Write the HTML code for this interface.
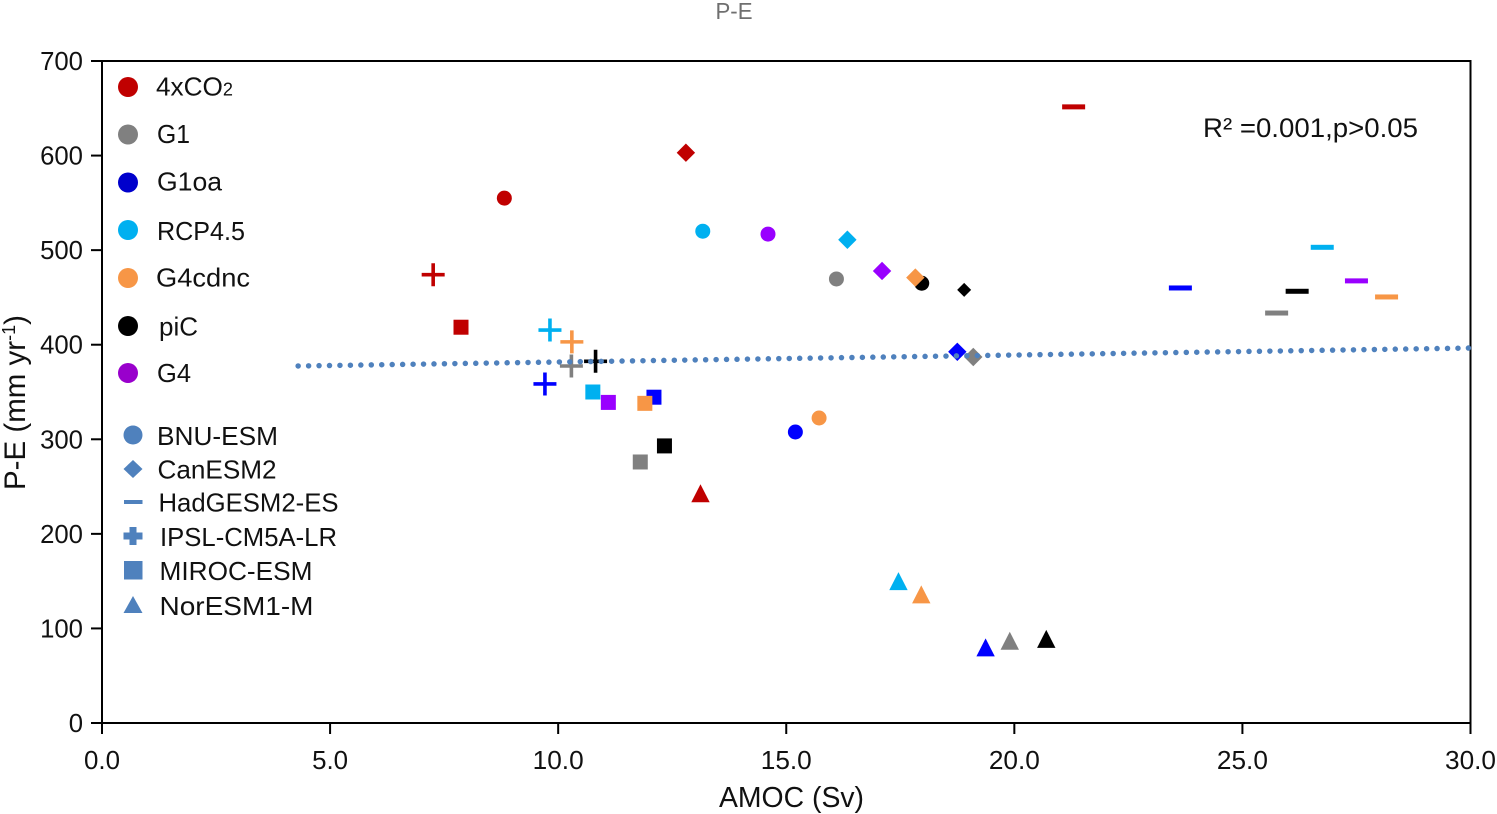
<!DOCTYPE html>
<html lang="en">
<head>
<meta charset="utf-8">
<title>P-E vs AMOC</title>
<style>
html,body{margin:0;padding:0;background:#fff;}
svg{display:block;}
text{font-family:"Liberation Sans",sans-serif;fill:#111;}
</style>
</head>
<body>
<svg id="chart" xmlns="http://www.w3.org/2000/svg" width="1497" height="814" viewBox="0 0 1497 814">
  <text x="734" y="19" text-anchor="middle" font-size="23" style="fill:#6f6f6f" textLength="37" lengthAdjust="spacingAndGlyphs">P-E</text>
  <rect x="102" y="61" width="1368.5" height="662" fill="none" stroke="#000" stroke-width="2"/>
  <g id="axes"></g>
  <text x="719" y="807" font-size="29" textLength="145" lengthAdjust="spacingAndGlyphs">AMOC (Sv)</text>
  <text transform="translate(25,490) rotate(-90)" x="0" y="0" font-size="29.500">P-E (mm yr<tspan font-size="18" dy="-10">-1</tspan><tspan dy="10">)</tspan></text>
  <text x="1203" y="137" font-size="27" textLength="215" lengthAdjust="spacingAndGlyphs">R² =0.001,p&gt;0.05</text>

  <g>
    <g><circle cx="128" cy="87" r="10" fill="#c00000"/><text x="156" y="95.500" font-size="26" textLength="77" lengthAdjust="spacingAndGlyphs">4xCO<tspan font-size="18">2</tspan></text></g>
    <g><circle cx="128" cy="134.500" r="10" fill="#808080"/><text x="157" y="143" font-size="26" textLength="33" lengthAdjust="spacingAndGlyphs">G1</text></g>
    <g><circle cx="128" cy="182.500" r="10" fill="#0000cc"/><text x="157" y="190.500" font-size="26" textLength="65" lengthAdjust="spacingAndGlyphs">G1oa</text></g>
    <g><circle cx="128" cy="230" r="10" fill="#00b0f0"/><text x="157" y="240" font-size="26" textLength="88" lengthAdjust="spacingAndGlyphs">RCP4.5</text></g>
    <g><circle cx="128" cy="278" r="10" fill="#f79646"/><text x="156" y="286.500" font-size="26" textLength="94" lengthAdjust="spacingAndGlyphs">G4cdnc</text></g>
    <g><circle cx="128" cy="326" r="10" fill="#000"/><text x="159" y="335.500" font-size="26" textLength="39" lengthAdjust="spacingAndGlyphs">piC</text></g>
    <g><circle cx="128" cy="373" r="10" fill="#9900cc"/><text x="157" y="382" font-size="26" textLength="34" lengthAdjust="spacingAndGlyphs">G4</text></g>
  </g>

  <g>
    <g><circle cx="133" cy="435" r="9.500" fill="#4f81bd"/><text x="157" y="445" font-size="26" textLength="121" lengthAdjust="spacingAndGlyphs">BNU-ESM</text></g>
    <g><polygon points="133,460 142.500,469 133,478 123.500,469" fill="#4f81bd"/><text x="157.500" y="478.500" font-size="26" textLength="119" lengthAdjust="spacingAndGlyphs">CanESM2</text></g>
    <g><rect x="124" y="500" width="18.500" height="4" fill="#4f81bd"/><text x="158.500" y="511.500" font-size="26" textLength="180" lengthAdjust="spacingAndGlyphs">HadGESM2-ES</text></g>
    <g><path d="M129.500 527h7v5.500h6v7h-6v5.500h-7v-5.500h-6v-7h6z" fill="#4f81bd"/><text x="160" y="546" font-size="26" textLength="177" lengthAdjust="spacingAndGlyphs">IPSL-CM5A-LR</text></g>
    <g><rect x="124" y="561" width="18.500" height="18.500" fill="#4f81bd"/><text x="159.500" y="580" font-size="26" textLength="153" lengthAdjust="spacingAndGlyphs">MIROC-ESM</text></g>
    <g><polygon points="133,596 142.500,613 123.500,613" fill="#4f81bd"/><text x="159.500" y="615" font-size="26" textLength="154" lengthAdjust="spacingAndGlyphs">NorESM1-M</text></g>
  </g>

  <g id="marks"></g>
  <g id="trend"></g>
</svg>
<script>
// Axis ticks
const xTicks = [0, 5, 10, 15, 20, 25, 30];
const yTicks = [0, 100, 200, 300, 400, 500, 600, 700];

// Order of values in every series below
const models = ["BNU-ESM", "CanESM2", "HadGESM2-ES", "IPSL-CM5A-LR", "MIROC-ESM", "NorESM1-M"];
const scenarios = ["4xCO2", "G1", "G1oa", "RCP4.5", "piC", "G4", "G4cdnc"];

// AMOC (Sv) per model
const amoc4xCO2 = [8.82, 12.8, 21.3, 7.26, 7.87, 13.12];
const amocG1 = [16.1, 19.1, 25.75, 10.29, 11.8, 19.9];
const amocG1oa = [15.2, 18.75, 23.64, 9.71, 12.1, 19.37];
const amocRCP45 = [13.17, 16.34, 26.75, 9.82, 10.76, 17.46];
const amocPiC = [17.97, 18.9, 26.2, 10.82, 12.33, 20.7];
const amocG4 = [14.6, 17.1, 27.5, null, 11.1, null];
const amocG4cdnc = [15.72, 17.83, 28.16, 10.3, 11.9, 17.96];

// P-E (mm/yr) per model
const pe4xCO2 = [555, 603, 651.500, 474, 418.500, 243];
const peG1 = [469.500, 387, 433.500, 377.500, 276, 87];
const peG1oa = [307.700, 392.500, 460, 358.500, 344.500, 80];
const peRCP45 = [520, 511, 503, 415.500, 350, 150];
const pePiC = [465, 458, 456.500, 382.500, 293, 89];
const peG4 = [517, 478, 467.500, null, 339, null];
const peG4cdnc = [322.500, 471, 450.500, 403, 338, 136];

// Trend line endpoints
const trendX = [4.3, 30];
const trendY = [377.5, 396.5];

const amocSeries = [amoc4xCO2, amocG1, amocG1oa, amocRCP45, amocPiC, amocG4, amocG4cdnc];
const peSeries = [pe4xCO2, peG1, peG1oa, peRCP45, pePiC, peG4, peG4cdnc];
const scenarioColors = ["#c00000", "#808080", "#0000ff", "#00b0f0", "#000000", "#9900ff", "#f79646"];

const NS = "http://www.w3.org/2000/svg";
const sx = function (v) { return 102 + v * (1368.5 / 30); };
const sy = function (v) { return 723 - v * (662 / 700); };

function make(tag, attrs, parent) {
  const el = document.createElementNS(NS, tag);
  for (const k in attrs) el.setAttribute(k, attrs[k]);
  parent.appendChild(el);
  return el;
}

const axes = document.getElementById("axes");
xTicks.forEach(function (t) {
  const x = sx(t);
  const tick = make("line", { x1: x, x2: x, y1: 723, y2: 734, stroke: "#000", "stroke-width": 2 }, axes);
  
  
  const s = t.toFixed(1);
  const label = make("text", { x: x, y: 769, "text-anchor": "middle", "font-size": 26, textLength: s.length === 3 ? 36 : 51, lengthAdjust: "spacingAndGlyphs" }, axes);
  label.textContent = s;
  
  
});
yTicks.forEach(function (t) {
  const y = sy(t);
  const tick = make("line", { x1: 91, x2: 102, y1: y, y2: y, stroke: "#000", "stroke-width": 2 }, axes);
  
  
  const s = String(t);
  const label = make("text", { x: 83, y: y + 9, "text-anchor": "end", "font-size": 26, textLength: s.length * 14.3, lengthAdjust: "spacingAndGlyphs" }, axes);
  label.textContent = s;
  
  
});

function drawMark(modelIndex, scenarioIndex, amoc, pe, parent) {
  const cx = sx(amoc), cy = sy(pe), color = scenarioColors[scenarioIndex];
  let el;
  if (modelIndex === 0) {
    el = make("circle", { cx: cx, cy: cy, r: 7.5, fill: color }, parent);
  } else if (modelIndex === 1) {
    const d = scenarios[scenarioIndex] === "piC" ? 7 : 9.2;
    el = make("polygon", { points: [cx, cy - d, cx + d, cy, cx, cy + d, cx - d, cy].join(","), fill: color }, parent);
  } else if (modelIndex === 2) {
    el = make("rect", { x: cx - 11.5, y: cy - 2.5, width: 23, height: 5, fill: color }, parent);
  } else if (modelIndex === 3) {
    el = make("path", { d: "M" + (cx - 11.5) + " " + cy + "H" + (cx + 11.5) + "M" + cx + " " + (cy - 11.5) + "V" + (cy + 11.5), stroke: color, "stroke-width": 3.6, fill: "none" }, parent);
  } else if (modelIndex === 4) {
    el = make("rect", { x: cx - 7.5, y: cy - 7.5, width: 15, height: 15, fill: color }, parent);
  } else {
    el = make("polygon", { points: [cx, cy - 9, cx + 9.2, cy + 9, cx - 9.2, cy + 9].join(","), fill: color }, parent);
  }
  return el;
}

const marks = document.getElementById("marks");
models.forEach(function (model, m) {
  scenarios.forEach(function (scenario, s) {
    const a = amocSeries[s][m], p = peSeries[s][m];
    if (a === null || p === null) return;
    const el = drawMark(m, s, a, p, marks);
    
    
  });
});

const trendLine = make("line", {
  x1: sx(trendX[0]), y1: sy(trendY[0]), x2: sx(trendX[1]), y2: sy(trendY[1]),
  stroke: "#4f81bd", "stroke-width": 5.5, "stroke-linecap": "round", "stroke-dasharray": "0 10.45"
}, document.getElementById("trend"));


</script>
</body>
</html>
